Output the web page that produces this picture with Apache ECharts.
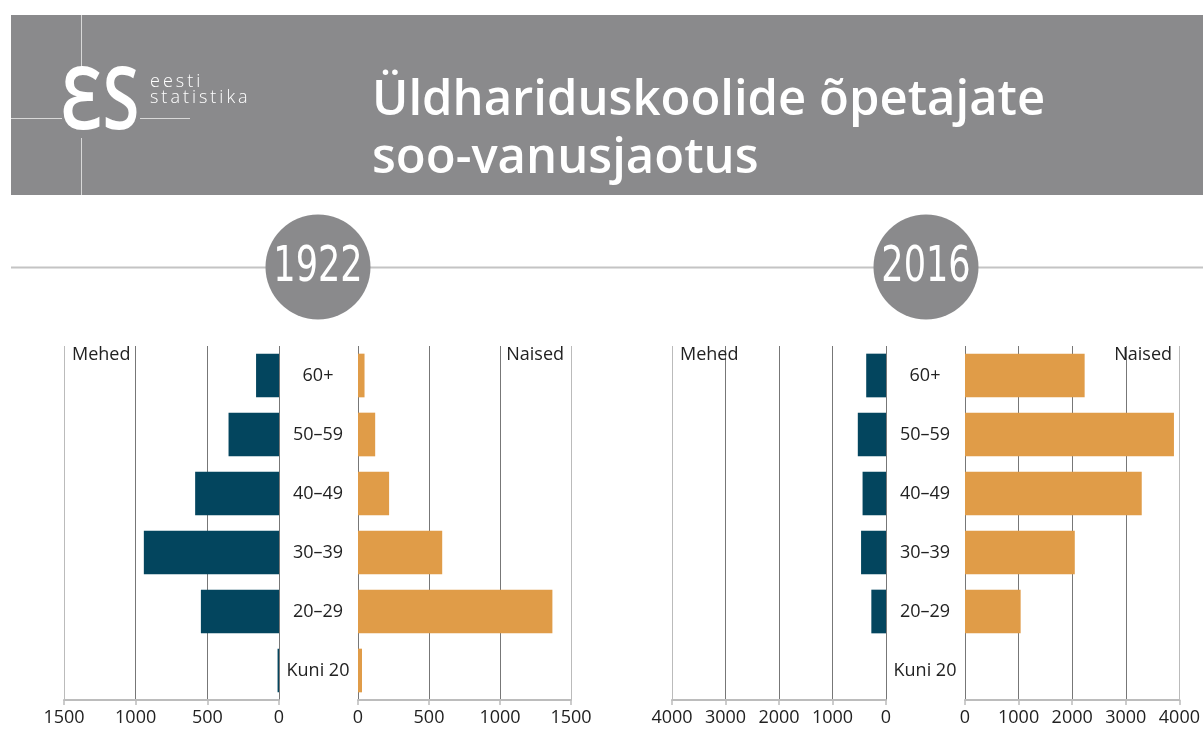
<!DOCTYPE html>
<html>
<head>
<meta charset="utf-8">
<title>Üldhariduskoolide õpetajate soo-vanusjaotus</title>
<script src="https://cdn.jsdelivr.net/npm/echarts@6/dist/echarts.min.js"></script>
<style>
  html, body { margin: 0; padding: 0; background: #fff; }
  #main { width: 1203px; height: 734px; }
</style>
</head>
<body>
<div id="main"></div>
<script>
// vanuserühmad alt üles
var ageGroups = ['Kuni 20', '20–29', '30–39', '40–49', '50–59', '60+']

// 1922
var men1922 = [10, 545, 943, 585, 352, 160]
var women1922 = [28, 1369, 593, 219, 121, 46]

// 2016
var men2016 = [0, 274, 466, 438, 527, 370]
var women2016 = [0, 1038, 2048, 3297, 3898, 2232]

var years = ['1922', '2016']
var axisMax = [1500, 4000]
var axisStep = [500, 1000]

var blue = '#03455e'
var orange = '#e09c48'
var grey = '#8a8a8c'
var font = '"Open Sans", "Noto Sans", sans-serif'

var myChart = echarts.init(document.getElementById('main'))

// grids: [vasak, laius]
var gridBoxes = [
    [64, 215], [358, 213],
    [672, 214], [965, 215]
]

var grids = [], xAxes = [], yAxes = [], series = []
gridBoxes.forEach(function (b, i) {
    var year = Math.floor(i / 2)
    var isMen = i % 2 === 0
    // välimine joon heledam
    var lineColors = year === 0 ? ['#777', '#777', '#777', '#bbb'] : ['#777', '#777', '#777', '#777', '#bbb']
    grids.push({ left: b[0], width: b[1], top: 346, bottom: 34 })
    xAxes.push({
        type: 'value',
        gridIndex: i,
        inverse: isMen,
        min: 0,
        max: axisMax[year],
        interval: axisStep[year],
        axisLine: { show: true, lineStyle: { color: '#bcbcbc', width: 2 } },
        axisTick: { show: true, length: 5, lineStyle: { color: '#bcbcbc', width: 1.5 } },
        axisLabel: {
            color: '#222', fontSize: 18, fontFamily: font, margin: 9,
            formatter: function (v) { return String(v) }
        },
        splitLine: { show: true, lineStyle: { color: lineColors, width: 1 } }
    })
    yAxes.push({
        type: 'category',
        gridIndex: i,
        data: ageGroups,
        axisLine: { show: false },
        axisTick: { show: false },
        splitLine: { show: false },
        axisLabel: {
            show: !isMen,
            color: '#222',
            fontSize: 18,
            fontFamily: font,
            align: 'center',
            margin: 40
        }
    })
    var data = [men1922, women1922, men2016, women2016][i]
    series.push({
        name: (isMen ? 'Mehed ' : 'Naised ') + years[year],
        type: 'bar',
        xAxisIndex: i,
        yAxisIndex: i,
        data: data,
        barWidth: '74%',
        itemStyle: { color: isMen ? blue : orange },
        silent: true
    })
})

function label(text, x, align) {
    return {
        type: 'text', x: x, y: 355, z: 10,
        style: { text: text, x: 0, y: 0, textAlign: align, align: align, textVerticalAlign: 'middle', verticalAlign: 'middle', font: '18px ' + font, fill: '#222' }
    }
}

function yearBadge(text, cx) {
    return [
        { type: 'circle', shape: { cx: cx, cy: 267, r: 52.5 }, style: { fill: grey }, z: 2 },
        {
            type: 'text', x: cx, y: 268, scaleX: 0.78, z: 3,
            style: { text: text, x: 0, y: 0, textAlign: 'center', align: 'center', textVerticalAlign: 'middle', verticalAlign: 'middle', font: '50px "Liberation Sans Narrow", "DejaVu Sans Condensed", sans-serif', fill: '#fff' }
        }
    ]
}

var graphics = [
    // päis
    { type: 'rect', shape: { x: 11, y: 15, width: 1192, height: 180 }, style: { fill: grey }, z: 0 },
    { type: 'line', shape: { x1: 81.5, y1: 15, x2: 81.5, y2: 195 }, style: { stroke: '#d8d8d8', lineWidth: 1 }, z: 1 },
    { type: 'line', shape: { x1: 11, y1: 118.5, x2: 190, y2: 118.5 }, style: { stroke: '#d8d8d8', lineWidth: 1 }, z: 1 },
    { type: 'rect', shape: { x: 62, y: 68, width: 78, height: 70 }, style: { fill: grey }, z: 1 },
    {
        type: 'text', x: 100, y: 104, scaleX: 0.78, z: 2,
        style: { text: 'ƐS', x: 0, y: 0, textAlign: 'center', align: 'center', textVerticalAlign: 'middle', verticalAlign: 'middle', font: '600 86px ' + font, fill: '#fff' }
    },
    {
        type: 'text', x: 150, y: 90, z: 2,
        style: { text: 'e\u2009e\u2009s\u2009t\u2009i\ns\u2009t\u2009a\u2009t\u2009i\u2009s\u2009t\u2009i\u2009k\u2009a', x: 0, y: 0, textAlign: 'left', align: 'left', textVerticalAlign: 'middle', verticalAlign: 'middle', font: '300 18px ' + font, lineHeight: 16, fill: '#fff' }
    },
    {
        type: 'text', x: 372, y: 72, z: 2,
        style: { text: 'Üldhariduskoolide õpetajate\nsoo-vanusjaotus', x: 0, y: 0, textAlign: 'left', align: 'left', textVerticalAlign: 'top', verticalAlign: 'top', font: '600 49px ' + font, lineHeight: 58, fill: '#fff' }
    },
    // aastate joon
    { type: 'line', shape: { x1: 11, y1: 267.5, x2: 1203, y2: 267.5 }, style: { stroke: '#c4c4c4', lineWidth: 2 }, z: 1 },
    label('Mehed', 72, 'left'),
    label('Naised', 564, 'right'),
    label('Mehed', 680, 'left'),
    label('Naised', 1172, 'right')
].concat(yearBadge(years[0], 318), yearBadge(years[1], 926))

myChart.setOption({
    animation: false,
    backgroundColor: '#fff',
    grid: grids,
    xAxis: xAxes,
    yAxis: yAxes,
    series: series,
    graphic: graphics
})
</script>
</body>
</html>
